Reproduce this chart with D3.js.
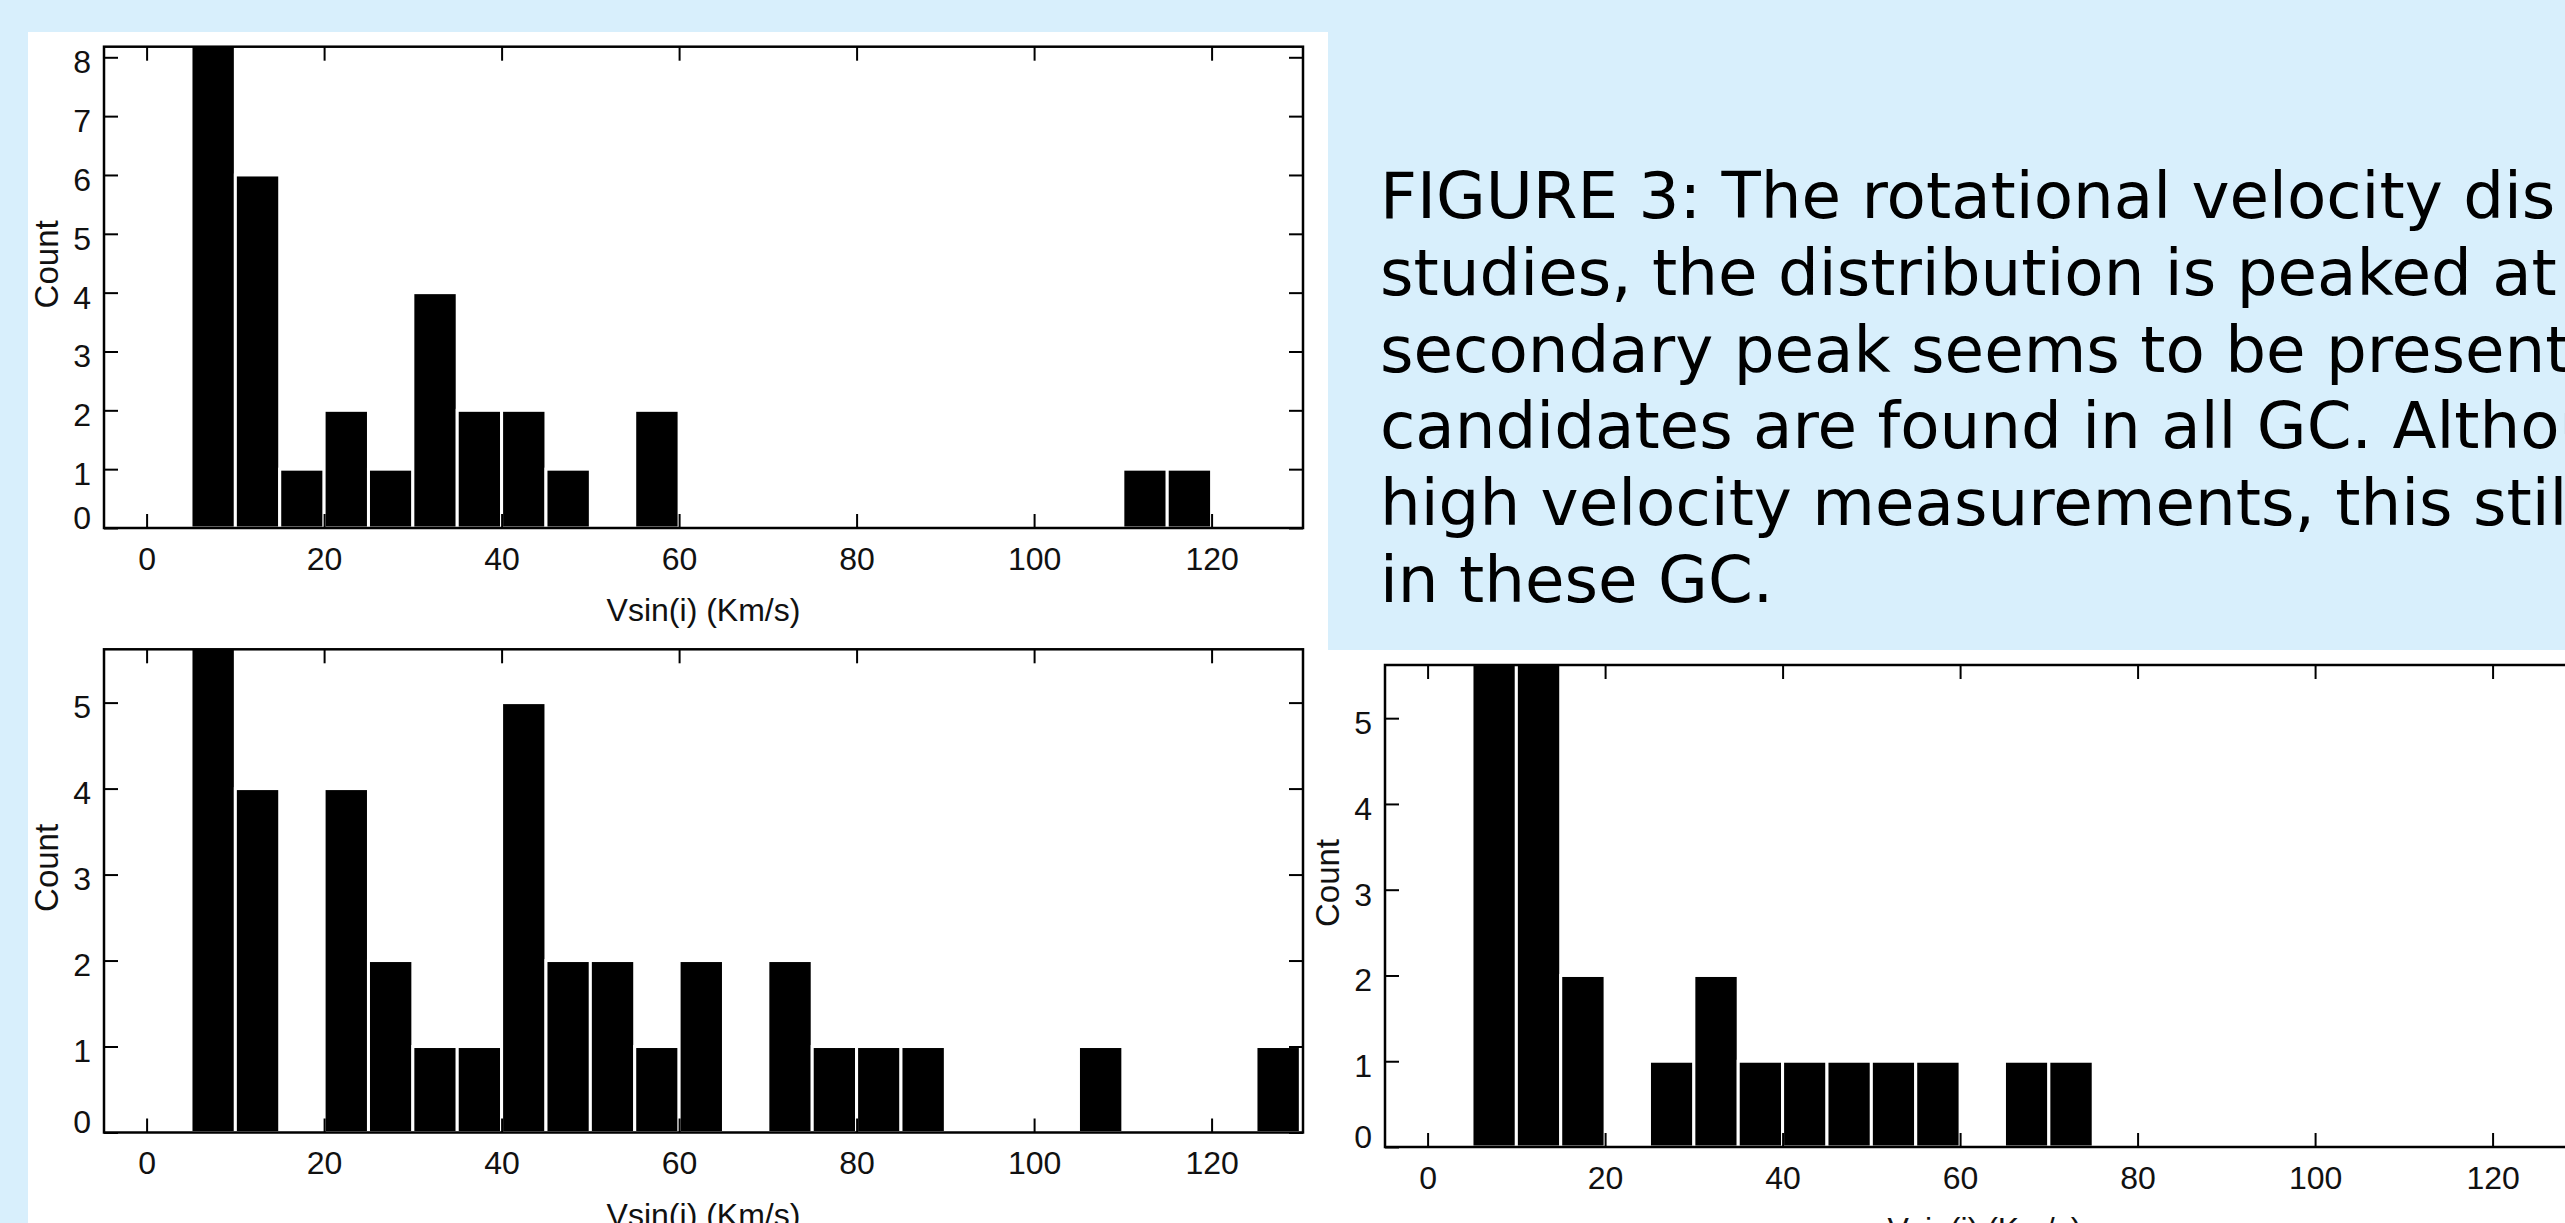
<!DOCTYPE html>
<html>
<head>
<meta charset="utf-8">
<script src="https://cdn.jsdelivr.net/npm/d3@7/dist/d3.min.js"></script>
<style>
  html, body { margin: 0; padding: 0; background: #d8effc; overflow: hidden; }
  svg { display: block; }
</style>
</head>
<body>
<svg id="chart" width="2565" height="1223"></svg>
<script>
// histogram bins (Km/s), 5 wide
const binStarts = [5, 10, 15, 20, 25, 30, 35, 40, 45, 50, 55, 60, 65, 70, 75, 80, 85, 90, 95, 100, 105, 110, 115, 120, 125];
const binWidth = 5;

// counts per bin, first bars run off the top of the axes
const topCounts         = [9, 6, 1, 2, 1, 4, 2, 2, 1, 0, 2, 0, 0, 0, 0, 0, 0, 0, 0, 0, 0, 1, 1, 0, 0];
const bottomLeftCounts  = [6, 4, 0, 4, 2, 1, 1, 5, 2, 2, 1, 2, 0, 2, 1, 1, 1, 0, 0, 0, 1, 0, 0, 0, 1];
const bottomRightCounts = [6, 6, 2, 0, 1, 2, 1, 1, 1, 1, 1, 0, 1, 1, 0, 0, 0, 0, 0, 0, 0, 0, 0, 0, 0];

const xTicks = [0, 20, 40, 60, 80, 100, 120];
const yTicksTop = [0, 1, 2, 3, 4, 5, 6, 7, 8];
const yTicksBottom = [0, 1, 2, 3, 4, 5];
const xDomain = [-4.8, 130.3];

const xLabel = "Vsin(i) (Km/s)";
const yLabel = "Count";

const captionLines = [
    "FIGURE 3: The rotational velocity dis",
    "studies, the distribution is peaked at",
    "secondary peak seems to be present",
    "candidates are found in all GC. Althou",
    "high velocity measurements, this stil",
    "in these GC."
];

const plotFont = "'Liberation Sans', Arial, Helvetica, sans-serif";
const svg = d3.select("#chart");

// background and white figure panels
svg.append("rect").attr("width", 2565).attr("height", 1223).attr("fill", "#d8effc");
svg.append("rect").attr("x", 28).attr("y", 32).attr("width", 1300).attr("height", 1191).attr("fill", "#fff");
svg.append("rect").attr("x", 1309).attr("y", 650).attr("width", 1256).attr("height", 573).attr("fill", "#fff");

function drawHist(cfg) {
    let x = d3.scaleLinear().domain(xDomain).range([cfg.x0, cfg.x1]);
    let y = d3.scaleLinear().domain([0, cfg.yMax]).range([cfg.y0, cfg.y1]);

    let g = svg.append("g");
    let clipId = "clip-" + cfg.id;
    svg.append("clipPath").attr("id", clipId)
        .append("rect")
        .attr("x", cfg.x0).attr("y", cfg.y1)
        .attr("width", cfg.x1 - cfg.x0).attr("height", cfg.y0 - cfg.y1);

    let bins = binStarts.map((b, i) => ({lo: b, hi: b + binWidth, n: cfg.counts[i]}))
        .filter(d => d.n > 0);

    // bars
    g.append("g").attr("clip-path", `url(#${clipId})`)
        .selectAll("rect")
        .data(bins)
        .enter().append("rect")
        .attr("x", d => x(d.lo))
        .attr("width", d => x(d.hi) - x(d.lo))
        .attr("y", d => y(d.n))
        .attr("height", d => y(0) - y(d.n))
        .attr("fill", "#000")
        .attr("stroke", "#fff")
        .attr("stroke-width", 3);

    // axes, ticks pointing inwards on all four sides
    let bottom = g.append("g")
        .attr("transform", `translate(0,${cfg.y0})`)
        .call(d3.axisBottom(x).tickValues(xTicks).tickFormat(d3.format("d"))
            .tickSizeInner(-14).tickSizeOuter(0).tickPadding(19));
    let top = g.append("g")
        .attr("transform", `translate(0,${cfg.y1})`)
        .call(d3.axisTop(x).tickValues(xTicks).tickSizeInner(-14).tickSizeOuter(0).tickFormat(""));
    let left = g.append("g")
        .attr("transform", `translate(${cfg.x0},0)`)
        .call(d3.axisLeft(y).tickValues(cfg.yTicks).tickFormat(d3.format("d"))
            .tickSizeInner(-14).tickSizeOuter(0).tickPadding(13));
    let right = g.append("g")
        .attr("transform", `translate(${cfg.x1},0)`)
        .call(d3.axisRight(y).tickValues(cfg.yTicks).tickSizeInner(-14).tickSizeOuter(0).tickFormat(""));

    [bottom, top, left, right].forEach(a => {
        a.select(".domain").remove();
        a.selectAll("line").attr("stroke", "#000").attr("stroke-width", 2);
        a.selectAll("text")
            .attr("fill", "#111")
            .style("font-family", plotFont)
            .style("font-size", "32px");
    });
    left.selectAll("text").attr("dy", d => d === 0 ? "0em" : "0.48em");

    // axes box
    g.append("rect")
        .attr("x", cfg.x0).attr("y", cfg.y1)
        .attr("width", cfg.x1 - cfg.x0).attr("height", cfg.y0 - cfg.y1)
        .attr("fill", "none")
        .attr("stroke", "#000")
        .attr("stroke-width", 2.5);

    // axis titles
    g.append("text")
        .attr("x", (cfg.x0 + cfg.x1) / 2)
        .attr("y", cfg.y0 + 93)
        .attr("text-anchor", "middle")
        .attr("fill", "#111")
        .style("font-family", plotFont)
        .style("font-size", "32px")
        .text(xLabel);

    let cy = (cfg.y0 + cfg.y1) / 2 - 23;
    let cx = cfg.x0 - 58;
    g.append("text")
        .attr("transform", `translate(${cx},${cy}) rotate(-90)`)
        .attr("text-anchor", "middle")
        .attr("dy", "0.35em")
        .attr("fill", "#111")
        .style("font-family", plotFont)
        .style("font-size", "33px")
        .text(yLabel);
}

drawHist({id: "top", x0: 104, x1: 1303, y0: 528, y1: 46.7, yMax: 8.18, counts: topCounts, yTicks: yTicksTop});
drawHist({id: "bl", x0: 104, x1: 1303, y0: 1132.5, y1: 649.3, yMax: 5.62, counts: bottomLeftCounts, yTicks: yTicksBottom});
drawHist({id: "br", x0: 1385, x1: 2584, y0: 1147, y1: 665, yMax: 5.62, counts: bottomRightCounts, yTicks: yTicksBottom});

// caption text block (runs off the right edge as in the poster)
svg.append("g")
    .selectAll("text")
    .data(captionLines)
    .enter().append("text")
    .attr("x", 1380)
    .attr("y", (d, i) => 218.3 + i * 76.7)
    .attr("fill", "#000")
    .style("font-family", "'DejaVu Sans', Verdana, sans-serif")
    .style("font-size", "64.3px")
    .text(d => d);
</script>
</body>
</html>
